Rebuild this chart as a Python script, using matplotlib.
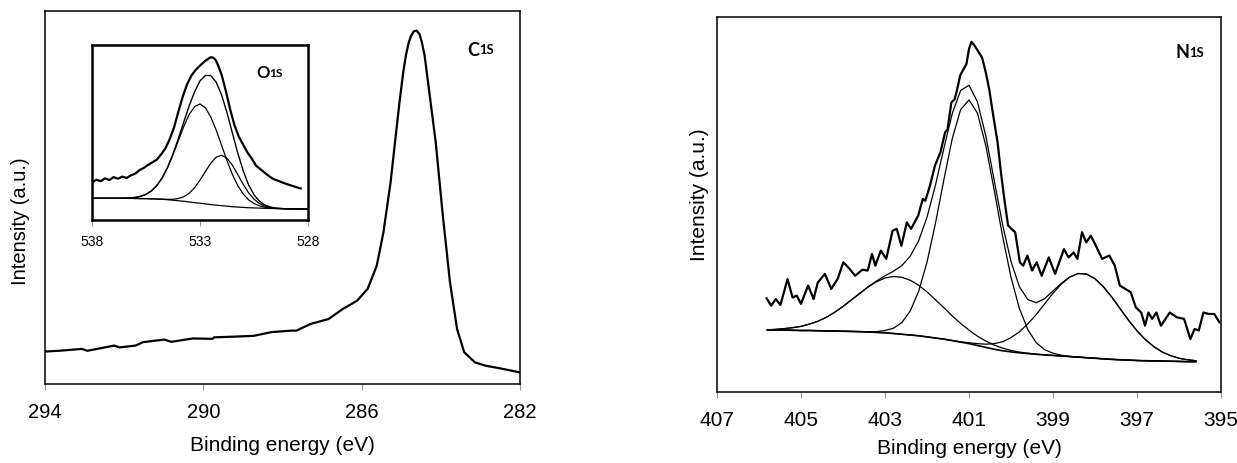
import matplotlib
matplotlib.use("Agg")
import matplotlib.pyplot as plt

plt.rcParams['font.family'] = ['Liberation Sans', 'DejaVu Sans']

# ---- C1s survey (main left panel) ----
c1s_be = [294.0, 293.65, 293.07, 292.93, 292.25, 292.12, 291.71, 291.53, 290.99, 290.81,
          290.27, 289.77, 289.73, 289.2, 288.73, 288.28, 287.78, 287.65, 287.29, 286.84,
          286.48, 286.12, 285.85, 285.62, 285.45, 285.27, 285.13, 285.04, 284.95, 284.88,
          284.81, 284.75, 284.68, 284.61, 284.54, 284.48, 284.41, 284.27, 284.13, 283.95,
          283.77, 283.59, 283.41, 283.14, 282.87, 282.51, 282.0]
c1s_int = [8.7, 8.9, 9.4, 8.9, 10.3, 9.8, 10.3, 11.2, 11.9, 11.3,
           12.2, 12.1, 12.5, 12.7, 12.9, 13.9, 14.3, 14.3, 16.1, 17.4,
           20.1, 22.3, 25.5, 31.7, 40.7, 54.1, 67.5, 76.0, 83.6, 88.3,
           91.6, 93.4, 94.6, 94.7, 93.8, 91.6, 88.0, 76.4, 64.8, 45.1,
           27.3, 14.7, 8.5, 5.8, 4.9, 4.2, 3.1]

# ---- O1s inset: raw spectrum ----
o1s_be = [538.0, 537.8, 537.6, 537.4, 537.2, 537.0, 536.8, 536.6, 536.4, 536.2,
          536.0, 535.8, 535.6, 535.4, 535.2, 535.0, 534.8, 534.6, 534.4, 534.2,
          534.0, 533.8, 533.6, 533.4, 533.2, 533.0, 532.8, 532.6, 532.5, 532.4,
          532.3, 532.2, 532.0, 531.8, 531.6, 531.4, 531.2, 531.0, 530.8, 530.6,
          530.4, 530.2, 530.0, 529.8, 529.6, 529.4, 529.2, 529.0, 528.8, 528.6, 528.34]
o1s_int = [21.5, 23.0, 22.2, 23.8, 22.8, 24.5, 23.6, 24.8, 24.0, 25.5,
           26.5, 28.5, 29.8, 31.5, 33.0, 34.5, 37.5, 41.0, 46.3, 53.0,
           62.0, 70.5, 77.5, 82.5, 85.8, 88.2, 90.5, 92.3, 93.0, 92.8,
           91.8, 89.5, 83.0, 73.5, 63.0, 54.0, 47.5, 43.0, 38.5, 35.0,
           31.0, 29.0, 27.0, 25.0, 23.4, 22.5, 21.5, 20.6, 19.8, 19.0, 18.0]

# ---- O1s inset: fit ----
o1s_fit_be = [538.0, 537.75, 537.5, 537.25, 537.0, 536.75, 536.5, 536.25, 536.0, 535.75,
              535.5, 535.25, 535.0, 534.75, 534.5, 534.25, 534.0, 533.75, 533.5, 533.25,
              533.0, 532.75, 532.5, 532.25, 532.0, 531.75, 531.5, 531.25, 531.0, 530.75,
              530.5, 530.25, 530.0, 529.75, 529.5, 529.25, 529.0, 528.75, 528.5, 528.25, 528.0]
o1s_bg = [12.4, 12.4, 12.4, 12.4, 12.4, 12.4, 12.4, 12.35, 12.3, 12.25,
          12.2, 12.1, 12.0, 11.8, 11.6, 11.3, 11.0, 10.7, 10.3, 9.9,
          9.6, 9.2, 8.8, 8.5, 8.2, 7.9, 7.6, 7.4, 7.2, 7.0,
          6.9, 6.8, 6.7, 6.6, 6.5, 6.45, 6.4, 6.35, 6.3, 6.3, 6.3]
o1s_peak_a = [12.4, 12.4, 12.4, 12.4, 12.4, 12.4, 12.5, 12.65, 12.9, 13.55,
              14.7, 16.6, 19.7, 24.0, 30.0, 37.3, 45.4, 53.5, 60.3, 64.8,
              66.3, 64.1, 58.8, 51.3, 42.6, 33.9, 26.0, 19.6, 14.9, 11.5,
              9.4, 8.1, 7.3, 6.9, 6.6, 6.5, 6.4, 6.35, 6.3, 6.3, 6.3]
o1s_peak_b = [12.4, 12.4, 12.4, 12.4, 12.4, 12.4, 12.4, 12.35, 12.3, 12.25,
              12.2, 12.1, 12.0, 11.9, 11.8, 11.85, 12.3, 13.3, 15.3, 18.4,
              22.8, 27.7, 32.5, 35.9, 37.0, 35.3, 31.3, 25.9, 20.4, 15.5,
              11.9, 9.4, 8.0, 7.15, 6.7, 6.55, 6.4, 6.35, 6.3, 6.3, 6.3]
o1s_env = [12.4, 12.4, 12.4, 12.4, 12.4, 12.4, 12.5, 12.65, 12.9, 13.55,
           14.7, 16.6, 19.7, 24.1, 30.2, 37.85, 46.7, 56.1, 65.3, 73.3,
           79.5, 82.6, 82.5, 78.7, 71.4, 61.3, 49.7, 38.1, 28.1, 20.0,
           14.4, 10.7, 8.6, 7.45, 6.8, 6.6, 6.4, 6.35, 6.3, 6.3, 6.3]

# ---- N1s: raw spectrum ----
n1s_be = [405.82, 405.71, 405.60, 405.49, 405.32, 405.20, 405.10, 405.00, 404.83, 404.70,
          404.60, 404.43, 404.28, 404.13, 403.99, 403.84, 403.71, 403.54, 403.41, 403.31,
          403.23, 403.10, 402.97, 402.82, 402.72, 402.61, 402.48, 402.38, 402.21, 402.10,
          402.04, 401.93, 401.81, 401.68, 401.57, 401.51, 401.42, 401.34, 401.28, 401.21,
          401.13, 401.06, 401.00, 400.94, 400.87, 400.79, 400.69, 400.60, 400.52, 400.41,
          400.32, 400.24, 400.16, 400.07, 399.99, 399.90, 399.79, 399.71, 399.61, 399.50,
          399.39, 399.27, 399.10, 398.95, 398.74, 398.63, 398.51, 398.42, 398.31, 398.21,
          398.10, 397.98, 397.83, 397.66, 397.53, 397.41, 397.28, 397.15, 397.03, 396.90,
          396.81, 396.73, 396.64, 396.54, 396.43, 396.22, 396.05, 395.88, 395.73, 395.63,
          395.53, 395.42, 395.29, 395.16, 395.04]
n1s_int = [25.0, 23.0, 24.8, 23.2, 30.1, 25.2, 25.7, 23.5, 28.4, 24.8,
           29.2, 31.5, 27.5, 30.1, 34.6, 32.8, 31.0, 32.6, 32.4, 36.8,
           33.7, 37.7, 35.5, 43.0, 43.5, 39.0, 45.2, 43.5, 47.0, 51.5,
           51.0, 55.0, 60.4, 63.9, 69.2, 70.1, 77.2, 78.1, 80.8, 84.4,
           86.1, 87.5, 91.5, 93.4, 92.4, 91.0, 89.2, 85.2, 80.8, 72.8,
           66.6, 58.6, 51.5, 44.4, 43.5, 42.6, 34.6, 33.7, 36.4, 32.4,
           34.6, 31.0, 35.9, 31.5, 38.1, 35.9, 37.2, 35.5, 42.6, 39.9,
           41.7, 39.0, 35.5, 36.4, 33.7, 28.4, 27.5, 26.6, 22.6, 21.2,
           17.7, 21.2, 19.5, 21.2, 17.7, 21.2, 19.9, 19.5, 14.1, 16.8,
           16.4, 21.2, 20.8, 20.8, 18.6]

# ---- N1s: fit ----
n1s_fit_be = [405.8, 405.6, 405.4, 405.2, 405.0, 404.8, 404.6, 404.4, 404.2, 404.0,
              403.8, 403.6, 403.4, 403.2, 403.0, 402.8, 402.6, 402.4, 402.2, 402.0,
              401.8, 401.6, 401.4, 401.2, 401.0, 400.8, 400.6, 400.4, 400.2, 400.0,
              399.8, 399.6, 399.4, 399.2, 399.0, 398.8, 398.6, 398.4, 398.2, 398.0,
              397.8, 397.6, 397.4, 397.2, 397.0, 396.8, 396.6, 396.4, 396.2, 396.0,
              395.8, 395.6]
n1s_bg = [16.5, 16.5, 16.5, 16.45, 16.4, 16.4, 16.35, 16.3, 16.25, 16.2,
          16.15, 16.1, 16.0, 15.9, 15.8, 15.6, 15.4, 15.2, 15.0, 14.7,
          14.4, 14.1, 13.7, 13.3, 12.9, 12.4, 11.9, 11.4, 11.0, 10.7,
          10.45, 10.25, 10.05, 9.9, 9.75, 9.6, 9.45, 9.3, 9.15, 9.0,
          8.85, 8.7, 8.6, 8.5, 8.4, 8.35, 8.3, 8.25, 8.2, 8.15,
          8.1, 8.1]
n1s_peak_1 = [16.6, 16.7, 16.9, 17.15, 17.5, 18.1, 18.85, 19.9, 21.25, 22.8,
              24.55, 26.3, 28.0, 29.4, 30.4, 30.8, 30.6, 29.8, 28.5, 26.7,
              24.6, 22.5, 20.3, 18.3, 16.5, 14.9, 13.6, 12.5, 11.7, 11.1,
              10.65, 10.35, 10.1, 9.9, 9.75, 9.6, 9.45, 9.3, 9.15, 9.0,
              8.85, 8.7, 8.6, 8.5, 8.4, 8.35, 8.3, 8.25, 8.2, 8.15,
              8.1, 8.1]
n1s_peak_2 = [16.5, 16.5, 16.5, 16.45, 16.4, 16.4, 16.35, 16.3, 16.25, 16.2,
              16.15, 16.1, 16.1, 16.1, 16.4, 17.0, 18.5, 21.6, 26.8, 34.6,
              44.9, 56.5, 67.5, 75.3, 77.9, 74.4, 65.7, 53.8, 41.5, 30.6,
              22.25, 16.65, 13.15, 11.3, 10.35, 9.8, 9.5, 9.3, 9.15, 9.0,
              8.85, 8.7, 8.6, 8.5, 8.4, 8.35, 8.3, 8.25, 8.2, 8.15,
              8.1, 8.1]
n1s_peak_3 = [16.5, 16.5, 16.5, 16.45, 16.4, 16.4, 16.35, 16.3, 16.25, 16.2,
              16.15, 16.1, 16.0, 15.9, 15.8, 15.6, 15.4, 15.2, 15.0, 14.7,
              14.4, 14.1, 13.75, 13.4, 13.15, 12.9, 12.75, 12.9, 13.4, 14.5,
              16.05, 18.15, 20.65, 23.5, 26.35, 28.8, 30.65, 31.6, 31.45, 30.2,
              28.05, 25.3, 22.2, 19.1, 16.3, 13.95, 12.1, 10.65, 9.7, 9.0,
              8.6, 8.35]
n1s_env = [16.6, 16.7, 16.9, 17.15, 17.5, 18.1, 18.85, 19.9, 21.25, 22.8,
           24.55, 26.3, 28.1, 29.6, 31.0, 32.2, 33.7, 36.2, 40.3, 46.6,
           55.1, 64.9, 74.2, 80.4, 81.8, 77.4, 68.3, 56.4, 44.6, 34.8,
           28.05, 24.65, 23.8, 24.9, 26.95, 29.0, 30.7, 31.6, 31.45, 30.2,
           28.05, 25.3, 22.2, 19.1, 16.3, 13.95, 12.1, 10.65, 9.7, 9.0,
           8.6, 8.35]

c1s_ticks = [294, 290, 286, 282]
o1s_ticks = [538, 533, 528]
n1s_ticks = [407, 405, 403, 401, 399, 397, 395]

fig = plt.figure(figsize=(12.37, 4.64), dpi=100)


def style_axes(ax, spine_lw, label_size, pad):
    for s in ax.spines.values():
        s.set_linewidth(spine_lw)
    ax.set_yticks([])
    ax.tick_params(axis='x', direction='out', length=4, width=0.8, color='#999999',
                   labelsize=label_size, pad=pad)


def add_label(ax, x, y, main, sub, size):
    t = ax.text(x, y, main, transform=ax.transAxes, fontsize=size, fontweight='bold',
                family=['Lato', 'DejaVu Sans'], va='center', ha='left')
    ax.annotate(sub, xy=(1.0, 0.12), xycoords=t, fontsize=size * 0.72, fontweight='bold',
                family=['Lato', 'DejaVu Sans'], va='bottom', ha='left')


# left panel
ax1 = fig.add_axes([0.0364, 0.1703, 0.384, 0.8039])
ax1.plot(c1s_be, c1s_int, color='black', lw=1.6)
ax1.set_xlim(294, 282)
ax1.set_ylim(0, 100)
ax1.set_xticks(c1s_ticks)
style_axes(ax1, 1.1, 14.5, 9)
ax1.set_xlabel("Binding energy (eV)", fontsize=15)
ax1.xaxis.set_label_coords(0.5, -0.161)
ax1.xaxis.label.set_va('center')
ax1.set_ylabel("Intensity (a.u.)", fontsize=14.5)
ax1.yaxis.set_label_coords(-0.052, 0.44)
ax1.yaxis.label.set_va('center')
add_label(ax1, 0.888, 0.898, 'C', '1S', 13)

# inset
ax_in = fig.add_axes([0.0744, 0.5237, 0.1746, 0.3772])
ax_in.plot(o1s_be, o1s_int, color='black', lw=1.6)
ax_in.plot(o1s_fit_be, o1s_env, color='black', lw=1.0)
ax_in.plot(o1s_fit_be, o1s_peak_a, color='black', lw=0.9)
ax_in.plot(o1s_fit_be, o1s_peak_b, color='black', lw=0.9)
ax_in.plot(o1s_fit_be, o1s_bg, color='black', lw=0.9)
ax_in.set_xlim(538, 528)
ax_in.set_ylim(0, 100)
ax_in.set_xticks(o1s_ticks)
style_axes(ax_in, 1.8, 10, 6)
add_label(ax_in, 0.76, 0.846, 'O', '1S', 12)

# right panel
ax2 = fig.add_axes([0.5796, 0.153, 0.4075, 0.8082])
ax2.plot(n1s_be, n1s_int, color='black', lw=1.6)
ax2.plot(n1s_fit_be, n1s_env, color='black', lw=0.9)
ax2.plot(n1s_fit_be, n1s_peak_1, color='black', lw=0.9)
ax2.plot(n1s_fit_be, n1s_peak_2, color='black', lw=0.9)
ax2.plot(n1s_fit_be, n1s_peak_3, color='black', lw=0.9)
ax2.plot(n1s_fit_be, n1s_bg, color='black', lw=1.2)
ax2.set_xlim(407, 395)
ax2.set_ylim(0, 100)
ax2.set_xticks(n1s_ticks)
style_axes(ax2, 1.1, 15, 9)
ax2.set_xlabel("Binding energy (eV)", fontsize=15)
ax2.xaxis.set_label_coords(0.5, -0.147)
ax2.xaxis.label.set_va('center')
ax2.set_ylabel("Intensity (a.u.)", fontsize=15)
ax2.yaxis.set_label_coords(-0.034, 0.528)
ax2.yaxis.label.set_va('center')
add_label(ax2, 0.909, 0.909, 'N', '1S', 13)

fig.savefig("out.png", dpi=100)
